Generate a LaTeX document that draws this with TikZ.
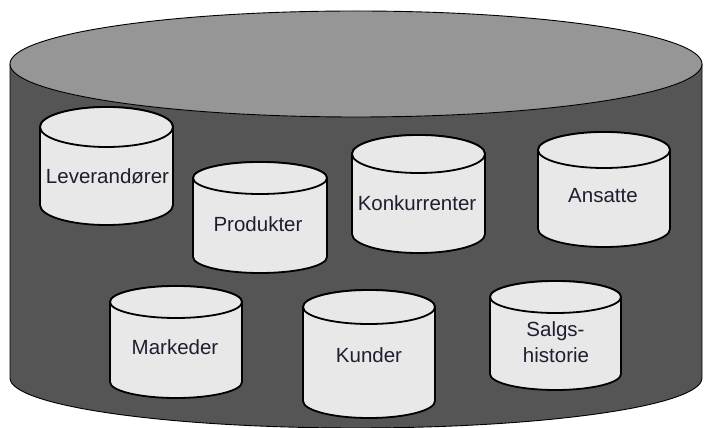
\documentclass[tikz,border=0pt]{standalone}
\usepackage{fontspec}
\setmainfont{Liberation Sans}
\definecolor{sidegray}{RGB}{85,85,85}
\definecolor{topgray}{RGB}{150,150,150}
\definecolor{cylfill}{RGB}{232,232,232}
\definecolor{txt}{RGB}{30,30,48}
\tikzset{
  bigside/.style={fill=sidegray, draw=black, line width=0.9pt},
  bigtop/.style={fill=topgray, draw=black, line width=0.9pt},
  smallcyl/.style={fill=cylfill, draw=black, line width=1.8pt, line join=round},
  lbl/.style={text=txt, font=\fontsize{20.5}{23}\selectfont, inner sep=0pt, anchor=base, align=center}
}
% cx, rx, top(img), bottom(img), ry
\newcommand\dbcyl[5]{%
  \filldraw[smallcyl] ({#1-#2},{428-#3-#5}) -- ({#1-#2},{428-#4+#5})
    arc[start angle=180,end angle=360,x radius=#2pt,y radius=#5pt]
    -- ({#1+#2},{428-#3-#5})
    arc[start angle=0,end angle=180,x radius=#2pt,y radius=#5pt] -- cycle;
  \draw[smallcyl] (#1,{428-#3-#5}) ellipse[x radius=#2pt,y radius=#5pt];
}
\begin{document}
\begin{tikzpicture}[x=1pt,y=1pt]
\useasboundingbox (0,0) rectangle (704,428);
% big cylinder
\filldraw[bigside] (10,364) -- (10,50)
  arc[start angle=180,end angle=360,x radius=346pt,y radius=50pt]
  -- (702,364) -- cycle;
\filldraw[bigtop] (356,364) ellipse[x radius=346pt,y radius=53pt];
% small cylinders
\dbcyl{106.5}{66.5}{107}{225}{20}
\dbcyl{260}{67}{162}{273}{16}
\dbcyl{418.5}{66.5}{135}{253}{19}
\dbcyl{604}{66}{132}{247}{18}
\dbcyl{176}{66}{286}{398}{16}
\dbcyl{369}{66}{290}{418}{17}
\dbcyl{555.5}{65.5}{281}{390}{16}
% labels
\node[lbl] (lev) at (107.5,{428-184}) {Leverandører};
\node[lbl] (prod) at (258,{428-232}) {Produkter};
\node[lbl] (konk) at (417,{428-211}) {Konkurrenter};
\node[lbl] (ans) at (603,{428-203}) {Ansatte};
\node[lbl] (mark) at (175,{428-355}) {Markeder};
\node[lbl] (kund) at (369,{428-363}) {Kunder};
\node[lbl] (salg1) at (555.5,{428-337}) {Salgs-};
\node[lbl] (salg2) at (556,{428-363}) {historie};
\end{tikzpicture}
\end{document}
